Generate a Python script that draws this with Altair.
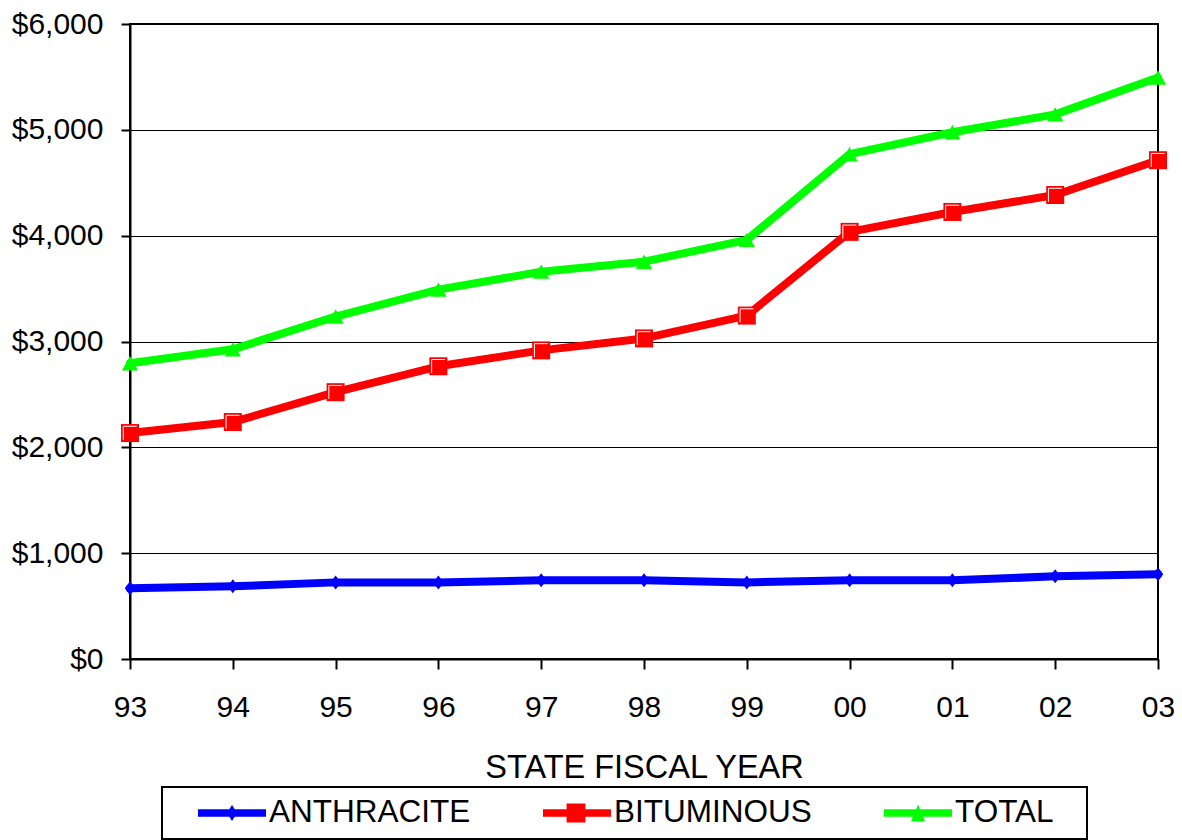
import altair as alt
import pandas as pd

years = ["93", "94", "95", "96", "97", "98", "99", "00", "01", "02", "03"]
series_names = ["ANTHRACITE", "BITUMINOUS", "TOTAL"]
anthracite = [668, 687, 724, 724, 743, 743, 724, 743, 743, 781, 800]
bituminous = [2135, 2239, 2521, 2766, 2916, 3029, 3245, 4036, 4224, 4384, 4713]
total = [2794, 2926, 3236, 3490, 3660, 3754, 3960, 4770, 4977, 5146, 5494]
colors = ["#0000FF", "#FF0000", "#00FF00"]
y_ticks = [0, 1000, 2000, 3000, 4000, 5000, 6000]

rows = []
for name, vals in zip(series_names, [anthracite, bituminous, total]):
    for yr, v in zip(years, vals):
        rows.append({"year": yr, "series": name, "value": v})
df = pd.DataFrame(rows)
legend_df = pd.DataFrame({"series": series_names})

FONT = "Liberation Sans"
x_scale = alt.Scale(type="point", padding=0)
y_scale = alt.Scale(domain=[0, 6000], nice=False)

x_enc = alt.X(
    "year:O",
    sort=years,
    scale=x_scale,
    axis=alt.Axis(
        title="STATE FISCAL YEAR",
        labelAngle=0,
        labelFont=FONT,
        labelFontSize=30,
        labelColor="black",
        labelPadding=23,
        tickSize=10,
        tickWidth=2,
        tickColor="black",
        domainColor="black",
        domainWidth=2,
        titleFont=FONT,
        titleFontSize=32.5,
        titleFontWeight="normal",
        titleColor="black",
        titleY=92,
        titleBaseline="top",
        grid=False,
    ),
)
y_enc = alt.Y(
    "value:Q",
    scale=y_scale,
    axis=alt.Axis(
        title=None,
        values=y_ticks,
        format="$,.0f",
        labelFont=FONT,
        labelFontSize=30,
        labelColor="black",
        labelPadding=18,
        tickSize=9,
        tickWidth=2,
        tickColor="black",
        domainColor="black",
        domainWidth=2,
        grid=True,
        gridColor="black",
        gridWidth=1,
        gridOpacity=1,
    ),
)

base = alt.Chart(df)

diamond_path = "M0,-1L0.75,0L0,1L-0.75,0Z"
tri_path = "M0,-0.8L0.9,0.8L-0.9,0.8Z"
bevel_path = "M-0.75,0.75V-0.75H0.75"
marker_shapes = [diamond_path, "square", tri_path]
marker_sizes = [196, 324, 324]

layers = []
for name, col in zip(series_names, colors):
    layers.append(
        base.transform_filter(alt.datum.series == name)
        .mark_line(strokeWidth=8, strokeCap="round", strokeJoin="round", color=col)
        .encode(x=x_enc, y=y_enc)
    )
for name, col, shp, sz in zip(series_names, colors, marker_shapes, marker_sizes):
    layers.append(
        base.transform_filter(alt.datum.series == name)
        .mark_point(filled=True, shape=shp, size=sz, opacity=1, strokeWidth=0, color=col)
        .encode(x=x_enc, y=y_enc)
    )
    if name == "BITUMINOUS":
        layers.append(
            base.transform_filter(alt.datum.series == name)
            .mark_point(filled=False, shape=bevel_path, size=324, opacity=1,
                        strokeWidth=1, color="white")
            .encode(x=x_enc, y=y_enc)
        )

# legend symbols: line with marker
line_part = "M-0.447,-0.08H1V0.08H-0.447Z"
leg_shapes = [
    line_part + "M0.277,-0.17L0.387,0L0.277,0.17L0.167,0Z",
    line_part + "M0.055,-0.2H0.455V0.2H0.055Z",
    line_part + "M0.277,-0.18L0.427,0.18L0.127,0.18Z",
]

legend_def = alt.Legend(
    title=None,
    orient="none",
    legendX=32,
    legendY=763,
    direction="horizontal",
    columns=3,
    columnPadding=46,
    strokeColor="black",
    fillColor="white",
    padding=10,
    cornerRadius=0,
    labelFont=FONT,
    labelFontSize=31.5,
    labelColor="black",
    labelOffset=3,
    labelLimit=500,
    symbolSize=8836,
    symbolStrokeWidth=0,
    symbolOpacity=1,
    clipHeight=32,
    labelExpr="datum.label == 'TOTAL' ? 'TOTAL\u2800' : datum.label",
)

legend_layer = alt.Chart(legend_df).mark_point(filled=True, opacity=0).encode(
    color=alt.Color("series:N", scale=alt.Scale(domain=series_names, range=colors),
                    legend=legend_def),
    shape=alt.Shape(
        "series:N",
        scale=alt.Scale(domain=series_names, range=leg_shapes),
        legend=legend_def,
    ),
)
layers.append(legend_layer)

chart = (
    alt.layer(*layers)
    .properties(
        width=1028,
        height=635,
        background="white",
        autosize=alt.AutoSizeParams(type="none"),
        padding={"left": 122, "top": 16, "right": 16, "bottom": 181},
    )
    .configure_view(stroke="black", strokeWidth=2)
    .configure_legend(strokeWidth=2)
)

chart.save("out.html", embed_options={"renderer": "svg", "actions": False})
